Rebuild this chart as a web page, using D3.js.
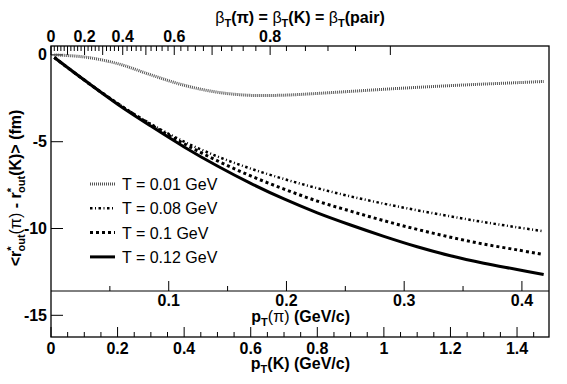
<!DOCTYPE html>
<html>
<head>
  <meta charset="utf-8">
  <script src="https://d3js.org/d3.v7.min.js"></script>
  <style>
    body { margin: 0; background: #fff; }
    svg { display: block; font-family: "Liberation Sans", Arial, sans-serif; }
  </style>
</head>
<body>
  <div id="chart"></div>
  <script>
    // kaon pT grid (GeV/c)
    var pK = [0.01, 0.1, 0.2, 0.3, 0.4, 0.5, 0.6, 0.7, 0.8, 0.9, 1.0, 1.1, 1.2, 1.3, 1.4, 1.48];
    // <r*out(pi) - r*out(K)> (fm) for each temperature
    var t001 = [0, -0.12, -0.5, -1.15, -1.75, -2.15, -2.33, -2.32, -2.22, -2.1, -1.98, -1.87, -1.77, -1.68, -1.6, -1.53];
    var t008 = [-0.15, -1.45, -2.8, -3.98, -5.0, -5.85, -6.55, -7.15, -7.68, -8.15, -8.57, -8.95, -9.3, -9.63, -9.93, -10.16];
    var t010 = [-0.15, -1.45, -2.8, -4.02, -5.12, -6.1, -6.97, -7.73, -8.42, -9.0, -9.55, -10.05, -10.5, -10.9, -11.23, -11.5];
    var t012 = [-0.15, -1.45, -2.84, -4.1, -5.3, -6.4, -7.4, -8.3, -9.1, -9.8, -10.45, -11.05, -11.57, -12.0, -12.36, -12.65];
    var legendLabels = ["T = 0.01 GeV", "T = 0.08 GeV", "T = 0.1 GeV", "T = 0.12 GeV"];
    var yTicks = [0, -5, -10, -15];
    var kTicks = [0, 0.2, 0.4, 0.6, 0.8, 1, 1.2, 1.4];
    var piTicks = [0.1, 0.2, 0.3, 0.4];
    var betaLabels = [0, 0.2, 0.4, 0.6, 0.8];

    function drawChart() {
      var mPi = 0.1396, mK = 0.4937;

      var width = 567, height = 384;
      var pLeft = 51, pRight = 549, pTop = 46, pBottom = 337, midY = 291;

      var svg = d3.select("#chart").append("svg")
        .attr("width", width).attr("height", height);

      var x = d3.scaleLinear().domain([0, 1.496]).range([pLeft, pRight]);
      var xPi = d3.scaleLinear().domain([0, 1.496 * mPi / mK]).range([pLeft, pRight]);
      var y = d3.scaleLinear().domain([-16.25, 0.513]).range([pBottom, pTop]);
      // beta_T -> kaon pT
      function betaX(b) { return x(mK * b / Math.sqrt(1 - b * b)); }

      // frame
      svg.append("rect")
        .attr("x", pLeft).attr("y", pTop)
        .attr("width", pRight - pLeft).attr("height", pBottom - pTop)
        .attr("fill", "none").attr("stroke", "#000").attr("stroke-width", 1.3);

      // left axis ticks
      svg.selectAll(".yt").data(yTicks).enter().append("line")
        .attr("x1", pLeft).attr("x2", pLeft + 12)
        .attr("y1", d => y(d)).attr("y2", d => y(d))
        .attr("stroke", "#000");
      svg.selectAll(".yl").data(yTicks).enter().append("text")
        .attr("x", pLeft - 4).attr("y", d => y(d) + 5.5)
        .attr("text-anchor", "end")
        .attr("font-size", 16).attr("font-weight", "bold")
        .text(d => d);

      // bottom kaon axis
      var kMinor = d3.range(0, 1.4951, 0.05);
      svg.selectAll(".kt").data(kMinor).enter().append("line")
        .attr("x1", d => x(d)).attr("x2", d => x(d))
        .attr("y1", pBottom)
        .attr("y2", d => Math.abs(d / 0.2 - Math.round(d / 0.2)) < 1e-6 ? pBottom - 10 : pBottom - 5)
        .attr("stroke", "#000");
      svg.selectAll(".kl").data(kTicks).enter().append("text")
        .attr("x", d => x(d)).attr("y", 354)
        .attr("text-anchor", "middle")
        .attr("font-size", 16).attr("font-weight", "bold")
        .text(d => d);
      var kTitle = svg.append("text").attr("x", 350).attr("y", 369)
        .attr("text-anchor", "end").attr("font-size", 16).attr("font-weight", "bold");
      kTitle.append("tspan").text("p");
      kTitle.append("tspan").attr("font-size", 11).attr("dy", 4).text("T");
      kTitle.append("tspan").attr("dy", -4).text("(K) (GeV/c)");

      // middle pion axis
      svg.append("line")
        .attr("x1", pLeft).attr("x2", pRight).attr("y1", midY).attr("y2", midY)
        .attr("stroke", "#000");
      var piMinor = d3.range(0.05, 0.4201, 0.05);
      svg.selectAll(".pt").data(piMinor).enter().append("line")
        .attr("x1", d => xPi(d)).attr("x2", d => xPi(d))
        .attr("y1", midY)
        .attr("y2", d => Math.abs(d / 0.1 - Math.round(d / 0.1)) < 1e-6 ? midY - 10 : midY - 5)
        .attr("stroke", "#000");
      svg.selectAll(".pl").data(piTicks).enter().append("text")
        .attr("x", d => xPi(d)).attr("y", 306)
        .attr("text-anchor", "middle")
        .attr("font-size", 16).attr("font-weight", "bold")
        .text(d => d);
      var piTitle = svg.append("text").attr("x", 350).attr("y", 322)
        .attr("text-anchor", "end").attr("font-size", 16).attr("font-weight", "bold");
      piTitle.append("tspan").text("p");
      piTitle.append("tspan").attr("font-size", 11).attr("dy", 4).text("T");
      piTitle.append("tspan").attr("dy", -4).attr("font-weight", "normal").text("(\u03c0)");
      piTitle.append("tspan").text(" (GeV/c)");

      // top beta axis
      var bTicks = d3.range(0, 0.9001, 0.02);
      svg.selectAll(".bt").data(bTicks).enter().append("line")
        .attr("x1", d => betaX(d)).attr("x2", d => betaX(d))
        .attr("y1", pTop)
        .attr("y2", d => Math.abs(d / 0.1 - Math.round(d / 0.1)) < 1e-6 ? pTop + 9 : pTop + 5)
        .attr("stroke", "#000");
      svg.selectAll(".bl").data(betaLabels).enter().append("text")
        .attr("x", d => betaX(d)).attr("y", 42)
        .attr("text-anchor", "middle")
        .attr("font-size", 16).attr("font-weight", "bold")
        .text(d => d);
      var bTitle = svg.append("text").attr("x", 300).attr("y", 23)
        .attr("text-anchor", "middle").attr("font-size", 16).attr("font-weight", "bold");
      [["\u03b2", "(\u03c0) = "], ["\u03b2", "(K) = "], ["\u03b2", "(pair)"]].forEach(function (p) {
        bTitle.append("tspan").attr("font-weight", "normal").text(p[0]);
        bTitle.append("tspan").attr("font-size", 11).attr("dy", 4).text("T");
        bTitle.append("tspan").attr("dy", -4).text(p[1]);
      });

      // y title
      var yTitle = svg.append("text")
        .attr("transform", "translate(21,188) rotate(-90)")
        .attr("text-anchor", "middle").attr("font-size", 16).attr("font-weight", "bold");
      yTitle.append("tspan").text("<r");
      yTitle.append("tspan").attr("font-size", 11).attr("dy", -6).text("*");
      yTitle.append("tspan").attr("font-size", 11).attr("dx", -5).attr("dy", 10).text("out");
      yTitle.append("tspan").attr("dy", -4).attr("font-weight", "normal").text("(\u03c0)");
      yTitle.append("tspan").text(" - r");
      yTitle.append("tspan").attr("font-size", 11).attr("dy", -6).text("*");
      yTitle.append("tspan").attr("font-size", 11).attr("dx", -5).attr("dy", 10).text("out");
      yTitle.append("tspan").attr("dy", -4).text("(K)> (fm)");

      // curves
      var series = [
        { vals: t001, color: "#555", w: 3, dash: "1,1" },
        { vals: t008, color: "#000", w: 2.5, dash: "2.5,2.5,1,2.5" },
        { vals: t010, color: "#000", w: 3, dash: "3,3" },
        { vals: t012, color: "#000", w: 3, dash: null }
      ];
      var line = d3.line()
        .x(d => x(d[0])).y(d => y(d[1]))
        .curve(d3.curveCatmullRom.alpha(0.5));
      series.forEach(function (s) {
        svg.append("path")
          .datum(pK.map((p, i) => [p, s.vals[i]]))
          .attr("d", line)
          .attr("fill", "none")
          .attr("stroke", s.color)
          .attr("stroke-width", s.w)
          .attr("stroke-dasharray", s.dash);
      });

      // legend
      var legend = svg.append("g");
      series.forEach(function (s, i) {
        var ly = 184 + i * 24.3;
        legend.append("line")
          .attr("x1", 90).attr("x2", 115).attr("y1", ly).attr("y2", ly)
          .attr("stroke", s.color).attr("stroke-width", s.w)
          .attr("stroke-dasharray", s.dash);
        legend.append("text")
          .attr("x", 122).attr("y", ly + 6)
          .attr("font-size", 16)
          .text(legendLabels[i]);
      });
    }

    drawChart();
  </script>
</body>
</html>
